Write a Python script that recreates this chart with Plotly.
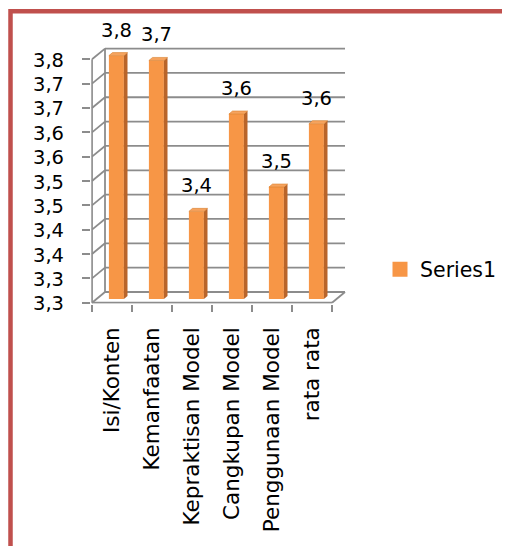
import plotly.graph_objects as go

# ---------------- data ----------------
categories = ["Isi/Konten", "Kemanfaatan", "Kepraktisan Model",
              "Cangkupan Model", "Penggunaan Model", "rata rata"]
values = [3.75, 3.74, 3.43, 3.63, 3.48, 3.61]
y_ticks = [3.25, 3.30, 3.35, 3.40, 3.45, 3.50, 3.55, 3.60, 3.65, 3.70, 3.75]
y_tick_labels = ["3,3", "3,3", "3,4", "3,4", "3,5", "3,5",
                 "3,6", "3,6", "3,7", "3,7", "3,8"]
series_name = "Series1"
data_labels = [f"{v:.1f}".replace(".", ",") for v in values]

# ---------------- style / geometry ----------------
OFF = 8                      # page body margin
W, H = 510 - OFF, 546 - OFF
FONT = "DejaVu Sans"
FRONT = "#F79646"
SIDE = "#B9652A"
TOP = "#F6A35E"
GRID = "#8C8C8C"
BORDER = "#C0504D"

y_min, y_max = y_ticks[0], y_ticks[-1]
x_lo, x_hi = -0.52, 6.0
y_lo, y_hi = 3.248, 3.80
n = len(categories)
left_edge, right_edge = -0.5, n - 0.5

wall_dx, wall_dy = 0.325, 0.022      # depth offset of the back wall
bar_shift, bar_dz = 0.11, 0.0076     # bars sit in mid-depth
bar_w = 0.375
side_dx, side_dy = 0.09, 0.0062      # bar depth

# pixel layout of the plot area (target page pixels minus body margin)
px_per_x = 40.0
px_per_y = 486.8
x0_px = 91.2 - OFF
y_front_px = 302.7 - OFF
dom_x = [x0_px / W, (x0_px + (x_hi - x_lo) * px_per_x) / W]
bot_px = y_front_px + (y_min - y_lo) * px_per_y
top_px = y_front_px - (y_hi - y_min) * px_per_y
dom_y = [1 - bot_px / H, 1 - top_px / H]

fig = go.Figure()

# front faces of bars
fig.add_trace(go.Bar(
    x=[i + bar_shift for i in range(n)],
    y=[v - y_min for v in values],
    base=y_min + bar_dz,
    width=bar_w,
    marker=dict(color=FRONT, line=dict(width=0)),
    name=series_name,
    showlegend=False,
    hoverinfo="skip",
))

# side and top faces
for i, v in enumerate(values):
    xl = i + bar_shift - bar_w / 2
    xr = i + bar_shift + bar_w / 2
    b = y_min + bar_dz
    t = v + bar_dz
    fig.add_trace(go.Scatter(
        x=[xr, xr + side_dx, xr + side_dx, xr, xr],
        y=[b, b + side_dy, t + side_dy, t, b],
        fill="toself", fillcolor=SIDE, mode="lines",
        line=dict(width=0, color=SIDE), showlegend=False, hoverinfo="skip"))
    fig.add_trace(go.Scatter(
        x=[xl, xr, xr + side_dx, xl + side_dx, xl],
        y=[t, t, t + side_dy, t + side_dy, t],
        fill="toself", fillcolor=TOP, mode="lines",
        line=dict(width=0.6, color="#D9822F"), showlegend=False, hoverinfo="skip"))

# legend entry for the series (square swatch)
fig.add_trace(go.Scatter(x=[None], y=[None], mode="markers", name=series_name,
                         marker=dict(symbol="square", size=15, color=FRONT),
                         showlegend=True, hoverinfo="skip"))

# invisible trace for the label axis
fig.add_trace(go.Scatter(x=[0], y=[y_min], xaxis="x2", mode="markers",
                         marker=dict(opacity=0), showlegend=False, hoverinfo="skip"))

# walls / gridlines as shapes below traces
shapes = []
def seg(x0, y0, x1, y1):
    shapes.append(dict(type="line", xref="x", yref="y", x0=x0, y0=y0, x1=x1, y1=y1,
                       line=dict(color=GRID, width=1.8), layer="below"))

for t in y_ticks:
    seg(left_edge + wall_dx, t + wall_dy, right_edge + wall_dx, t + wall_dy)
    seg(left_edge, t, left_edge + wall_dx, t + wall_dy)
seg(left_edge + wall_dx, y_min + wall_dy, left_edge + wall_dx, y_max + wall_dy)
seg(left_edge, y_min, left_edge, y_max)
seg(left_edge, y_min, right_edge, y_min)
seg(right_edge, y_min, right_edge + wall_dx, y_min + wall_dy)

# frame border (paper coordinates)
shapes.append(dict(type="rect", xref="paper", yref="paper",
                   x0=(10.5 - OFF) / W, y0=1 - 560 / H, x1=530 / W, y1=1 - (11.3 - OFF) / H,
                   line=dict(color=BORDER, width=4.5), layer="above"))

annotations = []
for i, (v, lab) in enumerate(zip(values, data_labels)):
    annotations.append(dict(x=i + bar_shift, y=v + bar_dz + side_dy, xref="x", yref="y",
                            text=lab, showarrow=False, yanchor="bottom", yshift=9,
                            font=dict(family=FONT, size=19.5, color="black")))

# y tick labels placed right-aligned left of the front axis
label_right_px = 66 - OFF
for t, lab in zip(y_ticks, y_tick_labels):
    annotations.append(dict(x=label_right_px / W, y=t, xref="paper", yref="y",
                            text=lab, showarrow=False, xanchor="right", yanchor="middle",
                            yshift=-1,
                            font=dict(family=FONT, size=19.5, color="black")))

fig.update_layout(
    width=W, height=H,
    margin=dict(l=0, r=0, t=0, b=0),
    paper_bgcolor="white", plot_bgcolor="rgba(0,0,0,0)",
    shapes=shapes, annotations=annotations,
    showlegend=True,
    legend=dict(x=(380 - OFF) / W, y=1 - (269.5 - OFF) / H, xanchor="left", yanchor="middle",
                font=dict(family=FONT, size=20.5, color="black"),
                bgcolor="rgba(0,0,0,0)"),
    xaxis=dict(domain=dom_x, range=[x_lo, x_hi], showgrid=False, zeroline=False,
               showline=False, tickmode="array",
               tickvals=[k - 0.5 for k in range(n + 1)], ticktext=[""] * (n + 1),
               ticks="outside", ticklen=7, tickwidth=1.8, tickcolor=GRID,
               showticklabels=False, fixedrange=True),
    xaxis2=dict(overlaying="x", anchor="y", side="bottom", range=[x_lo, x_hi],
                showgrid=False, zeroline=False, showline=False,
                tickmode="array", tickvals=list(range(n)), ticktext=categories,
                tickangle=-90, ticks="outside", ticklen=14,
                tickcolor="rgba(0,0,0,0)",
                tickfont=dict(family=FONT, size=21.5, color="black")),
    yaxis=dict(domain=dom_y, range=[y_lo, y_hi], showgrid=False, zeroline=False,
               showline=False, tickmode="array", tickvals=y_ticks,
               ticktext=[""] * len(y_ticks), showticklabels=False,
               ticks="outside", ticklen=8, tickwidth=1.8, tickcolor=GRID),
)

fig.write_html("out.html")
